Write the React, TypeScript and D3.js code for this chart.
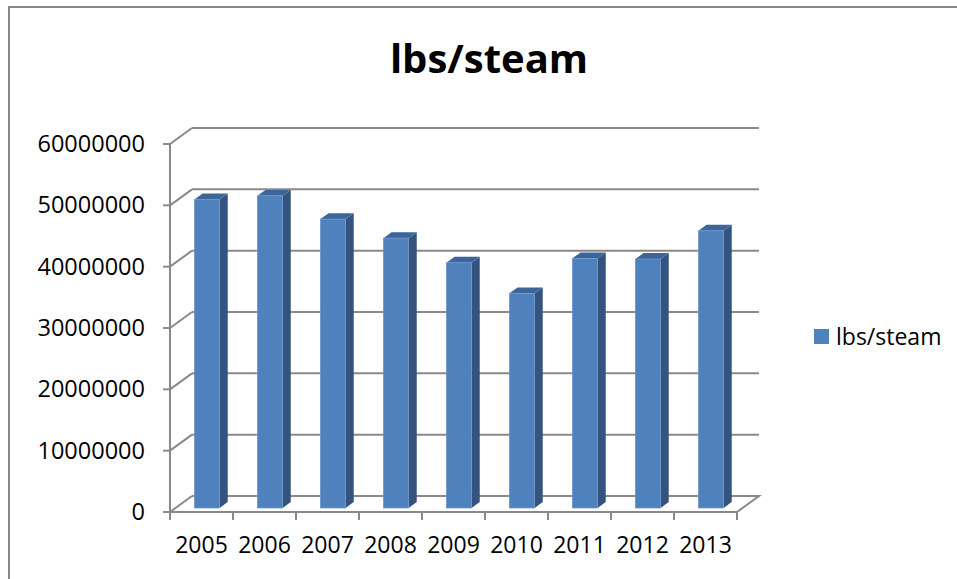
import React, { useEffect, useRef } from "react";
import * as d3 from "d3";

const years = ["2005", "2006", "2007", "2008", "2009", "2010", "2011", "2012", "2013"];
const lbsSteam = [50300000, 50900000, 47100000, 44000000, 40000000, 35000000, 40700000, 40600000, 45200000];
const yTicks = [0, 10000000, 20000000, 30000000, 40000000, 50000000, 60000000];
const seriesName = "lbs/steam";

const W = 957;
const H = 579;
const FONT = "'Open Sans', Calibri, Carlito, sans-serif";

const App: React.FC = () => {
  const ref = useRef<SVGSVGElement | null>(null);

  useEffect(() => {
    if (!ref.current) return;
    const svg = d3.select(ref.current);
    svg.selectAll("*").remove();

    // depth offset of the back wall
    const DX = 22;
    const DY = 16;

    const x = d3.scaleBand<string>().domain(years).range([170, 737]).padding(0);
    const y = d3.scaleLinear().domain([0, 60000000]).range([512, 144]);

    const grid = "#898989";

    // chart border
    svg.append("rect").attr("x", 9).attr("y", 7).attr("width", W + 20).attr("height", H + 20)
      .attr("fill", "#fff").attr("stroke", "#888").attr("stroke-width", 2);

    // back wall gridlines + side wall diagonals
    const g = svg.append("g").attr("fill", "none").attr("stroke", grid).attr("stroke-width", 2);
    yTicks.forEach((t) => {
      const yy = y(t);
      if (t > 0) {
        g.append("line").attr("x1", 170 + DX).attr("x2", 737 + DX).attr("y1", yy - DY).attr("y2", yy - DY);
      }
      g.append("line").attr("x1", 170).attr("x2", 170 + DX).attr("y1", yy).attr("y2", yy - DY);
      // tick mark
      g.append("line").attr("x1", 163).attr("x2", 170).attr("y1", yy).attr("y2", yy);
    });

    // floor outline
    const y0 = y(0);
    g.append("path").attr("d", `M170,${y0}L737,${y0}L${737 + DX},${y0 - DY}L${170 + DX},${y0 - DY}`);
    // vertical axis
    g.append("line").attr("x1", 170).attr("x2", 170).attr("y1", y0).attr("y2", y(60000000));
    // category ticks
    [...years.map((d) => x(d) as number), 737].forEach((tx) => {
      g.append("line").attr("x1", tx).attr("x2", tx).attr("y1", y0).attr("y2", y0 + 8);
    });

    // bars
    const z0 = 0.25;
    const zd = 0.37;
    const bw = x.bandwidth() * 0.4;
    const bars = svg.append("g");
    years.forEach((yr, i) => {
      const cx = (x(yr) as number) + x.bandwidth() / 2 + z0 * DX;
      const x0 = cx - bw / 2;
      const x1 = cx + bw / 2;
      const yb = y(0) - z0 * DY;
      const yt = y(lbsSteam[i]) - z0 * DY;
      const ox = zd * DX;
      const oy = zd * DY;
      bars.append("path")
        .attr("d", `M${x1},${yt}L${x1 + ox},${yt - oy}L${x1 + ox},${yb - oy}L${x1},${yb}Z`)
        .attr("fill", "#34547f");
      bars.append("path")
        .attr("d", `M${x0},${yt}L${x1},${yt}L${x1 + ox},${yt - oy}L${x0 + ox},${yt - oy}Z`)
        .attr("fill", "#3e6599");
      bars.append("rect").attr("x", x0).attr("y", yt).attr("width", bw).attr("height", yb - yt)
        .attr("fill", "#4f81bd").attr("stroke", "#6f97c9").attr("stroke-width", 0.8);
    });

    // y labels
    svg.append("g").selectAll("text").data(yTicks).enter().append("text")
      .attr("x", 145).attr("y", (d) => y(d) + 8)
      .attr("text-anchor", "end").attr("font-family", FONT).attr("font-size", 23.5).attr("fill", "#000")
      .text((d) => String(d));

    // x labels
    svg.append("g").selectAll("text").data(years).enter().append("text")
      .attr("x", (d) => (x(d) as number) + x.bandwidth() / 2).attr("y", 553)
      .attr("text-anchor", "middle").attr("font-family", FONT).attr("font-size", 23).attr("fill", "#000")
      .text((d) => d);

    // title
    svg.append("text").attr("x", 489).attr("y", 73).attr("text-anchor", "middle")
      .attr("font-family", FONT).attr("font-weight", "bold").attr("font-size", 40).attr("fill", "#000")
      .text(seriesName);

    // legend
    svg.append("rect").attr("x", 814).attr("y", 329).attr("width", 15).attr("height", 15).attr("fill", "#4f81bd");
    svg.append("text").attr("x", 836).attr("y", 345).attr("font-family", FONT).attr("font-size", 23)
      .attr("fill", "#000").text(seriesName);
  }, []);

  return (
    <svg ref={ref} width={W} height={H} style={{ position: "absolute", left: 0, top: 0, background: "#fff" }} />
  );
};

export default App;
